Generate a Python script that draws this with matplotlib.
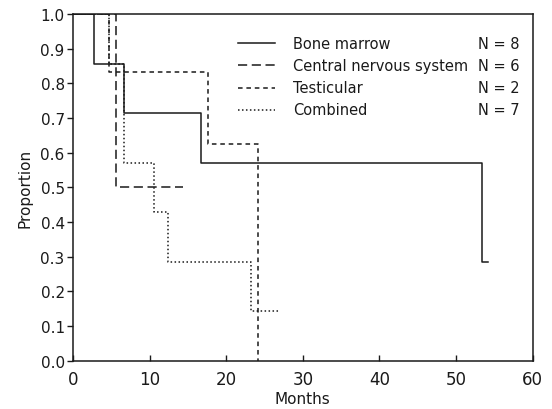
import matplotlib
matplotlib.use("Agg")
import matplotlib.pyplot as plt

# survival curves (months, proportion)
bone_t = [0, 2.75, 6.6, 16.7, 53.4, 54.2]
bone_p = [1.0, 0.857, 0.714, 0.571, 0.286, 0.286]

cns_t = [0, 5.6, 14.3]
cns_p = [1.0, 0.5, 0.5]

test_t = [0, 4.7, 17.6, 24.2]
test_p = [1.0, 0.833, 0.625, 0.0]

comb_t = [0, 4.7, 6.6, 10.6, 12.4, 23.3, 27.0]
comb_p = [1.0, 0.857, 0.571, 0.429, 0.286, 0.143, 0.143]

labels = ["Bone marrow", "Central nervous system", "Testicular", "Combined"]
counts = ["N = 8", "N = 6", "N = 2", "N = 7"]

ink = "#1a1a1a"
styles = ["-", (0, (6, 3)), (0, (3, 2.5)), (0, (1, 1.6))]

fig = plt.figure(figsize=(5.52, 4.10), dpi=100)
ax = fig.add_axes([0.1322, 0.1178, 0.8328, 0.8456])

series = [(bone_t, bone_p), (cns_t, cns_p), (test_t, test_p), (comb_t, comb_p)]
for (t, p), ls in zip(series, styles):
    ax.step(t, p, where="post", color=ink, lw=1.1, linestyle=ls)

ax.set_xlim(0, 60)
ax.set_ylim(0, 1.0)
ax.set_xticks(range(0, 61, 10))
ax.set_yticks([i / 10 for i in range(11)])
ax.set_yticklabels(["%.1f" % (i / 10) for i in range(11)])
ax.tick_params(axis="x", direction="in", length=4, width=1, pad=7,
               labelsize=12, colors=ink)
ax.tick_params(axis="y", direction="out", length=4, width=1, pad=2,
               labelsize=11, colors=ink)
for s in ax.spines.values():
    s.set_linewidth(1.1)
    s.set_color(ink)

ax.set_xlabel("Months", fontsize=11, color=ink, labelpad=2)
ax.set_ylabel("Proportion", fontsize=11, color=ink, labelpad=6)

# hand made legend
for i, (lab, n, ls) in enumerate(zip(labels, counts, styles)):
    y = 0.915 - i * 0.0635
    ax.plot([0.36, 0.44], [y, y], transform=ax.transAxes, color=ink,
            lw=1.1, linestyle=ls)
    ax.text(0.478, y, lab, transform=ax.transAxes, fontsize=10.5,
            color=ink, va="center")
    ax.text(0.88, y, n, transform=ax.transAxes, fontsize=10.5,
            color=ink, va="center")

fig.savefig("out.png", dpi=100)
